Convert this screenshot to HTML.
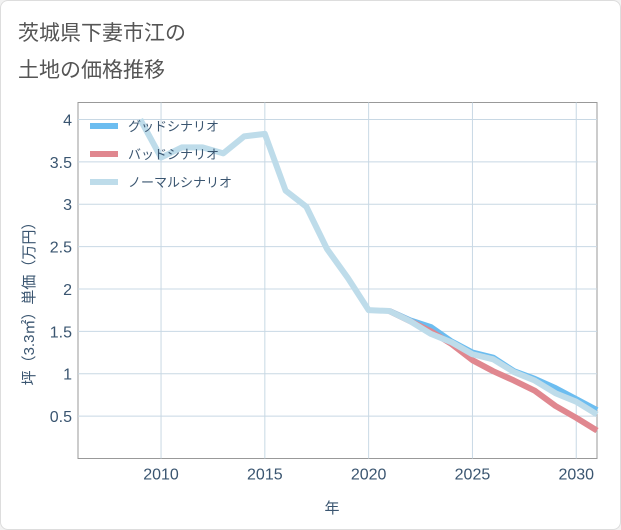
<!DOCTYPE html>
<html><head><meta charset="utf-8"><style>
body{margin:0;background:#f2f2f2;font-family:"Liberation Sans","Noto Sans CJK JP",sans-serif;}
#card{position:absolute;left:0;top:0;width:619px;height:528px;background:#fff;border:1px solid #ddd;border-radius:8px;}
</style></head><body>
<div id="card">
<svg width="621" height="530" style="position:absolute;left:-1px;top:-1px">
<text x="18" y="40" font-size="21" fill="#555">茨城県下妻市江の</text>
<text x="18" y="77" font-size="21" fill="#555">土地の価格推移</text>
<g id="grid"></g><g id="lines"></g>
<text x="0" y="0" transform="translate(34,300) rotate(-90)" text-anchor="middle" font-size="15" fill="#3a5570">坪（3.3㎡）単価（万円）</text>
<text x="332" y="513" text-anchor="middle" font-size="15" fill="#3a5570">年</text>
<g id="legend"></g>
</svg></div>
<script>
const years=[2009,2010,2011,2012,2013,2014,2015,2016,2017,2018,2019,2020,2021,2022,2023,2024,2025,2026,2027,2028,2029,2030,2031];
const normal=[4.0,3.55,3.67,3.67,3.6,3.8,3.83,3.16,2.97,2.47,2.13,1.75,1.74,1.62,1.47,1.37,1.23,1.17,1.02,0.92,0.77,0.67,0.52];
const goodYears=[2021,2022,2023,2024,2025,2026,2027,2028,2029,2030,2031];
const good=[1.74,1.63,1.55,1.38,1.25,1.19,1.03,0.94,0.83,0.70,0.57];
const bad=[1.74,1.62,1.50,1.35,1.16,1.03,0.92,0.80,0.62,0.48,0.33];
const yTicks=[0.5,1,1.5,2,2.5,3,3.5,4];
const xTicks=[2010,2015,2020,2025,2030];
const X0=78,X1=597,Y0=458.5,Y1=102.5,xmin=2006,xmax=2031,ymax=4.2;
const x=v=>X0+(v-xmin)/(xmax-xmin)*(X1-X0);
const y=v=>Y0-v/ymax*(Y0-Y1);
const NS="http://www.w3.org/2000/svg";
const grid=document.getElementById('grid'),lines=document.getElementById('lines'),legend=document.getElementById('legend');
function mk(tag,at,p){const e=document.createElementNS(NS,tag);for(const k in at)e.setAttribute(k,at[k]);p.appendChild(e);return e;}
const frame=mk('rect',{x:X0,y:Y1,width:X1-X0,height:Y0-Y1,fill:'none',stroke:'#999','stroke-width':1},grid);


yTicks.forEach(v=>{const l=mk('line',{x1:X0,x2:X1,y1:y(v),y2:y(v),stroke:'#c8d8e4'},grid);


const t=mk('text',{x:X0-6,y:y(v)+6,'text-anchor':'end','font-size':16,fill:'#3a5570'},grid);t.textContent=v;

});
xTicks.forEach(v=>{const l=mk('line',{x1:x(v),x2:x(v),y1:Y1,y2:Y0,stroke:'#c8d8e4'},grid);


const t=mk('text',{x:x(v),y:Y0+21,'text-anchor':'middle','font-size':16,fill:'#3a5570'},grid);t.textContent=v;

});
function series(xs,vs,c,n){const p=mk('polyline',{points:xs.map((a,i)=>x(a)+','+y(vs[i])).join(' '),fill:'none',stroke:c,'stroke-width':6,'stroke-linejoin':'round'},lines);

}
series(goodYears,good,'#6cbdf0','good-scenario-line');
series(goodYears,bad,'#e0878f','bad-scenario-line');
series(years,normal,'#bedcea','normal-scenario-line');
[['グッドシナリオ','#6cbdf0','legend-good'],['バッドシナリオ','#e0878f','legend-bad'],['ノーマルシナリオ','#bedcea','legend-normal']].forEach((d,i)=>{
const yy=126+i*28;
const g=mk('g',{},legend);


mk('line',{x1:90,x2:118,y1:yy,y2:yy,stroke:d[1],'stroke-width':6},g);
const t=mk('text',{x:128,y:yy+5,'font-size':13,fill:'#3a5570'},g);t.textContent=d[0];});
</script>
</body></html>
